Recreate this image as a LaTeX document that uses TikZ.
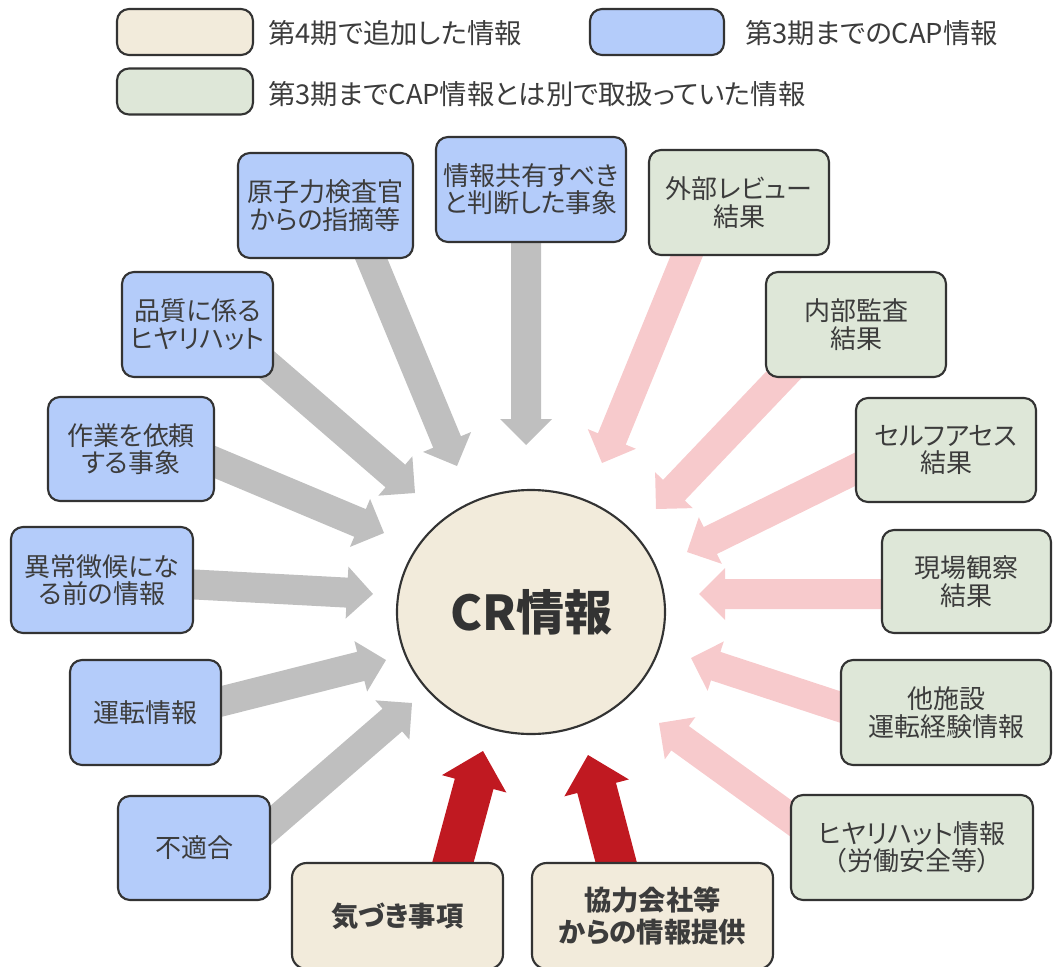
\documentclass[tikz,border=0pt]{standalone}
\usepackage{fontspec}
\setmainfont{Noto Sans CJK JP}[RawFeature=+palt]
\usetikzlibrary{calc,shapes.geometric}
\definecolor{cbeige}{RGB}{242,235,219}
\definecolor{cblue}{RGB}{180,204,250}
\definecolor{cgreen}{RGB}{222,231,216}
\definecolor{cgray}{RGB}{191,191,191}
\definecolor{cpink}{RGB}{247,202,204}
\definecolor{cred}{RGB}{192,25,33}
\definecolor{cline}{RGB}{51,51,51}
\definecolor{ctext}{RGB}{60,60,60}
\pgfdeclarelayer{arrowlayer}
\pgfsetlayers{arrowlayer,main}
% #1 colour, #2 tail, #3 tip, #4 half shaft, #5 half head, #6 head length
\newcommand\blockarr[6]{%
  \coordinate (hb) at ($(#3)!#6!(#2)$);
  \fill[#1] ($(#2)!#4!90:(#3)$) -- ($(hb)!#4!90:(#3)$) -- ($(hb)!#5!90:(#3)$)
    -- (#3) -- ($(hb)!#5!-90:(#3)$) -- ($(hb)!#4!-90:(#3)$) -- ($(#2)!#4!-90:(#3)$) -- cycle;}
\tikzset{
  sz/.style 2 args={minimum width=#1*0.75pt, minimum height=#2*0.75pt},
  box/.style={draw=cline, line width=1.6pt, rounded corners=9pt, align=center,
    text=ctext, inner sep=0pt, font=\fontsize{19.5pt}{20.5pt}\selectfont},
  bluebox/.style={box, fill=cblue},
  greenbox/.style={box, fill=cgreen},
  beigebox/.style={box, fill=cbeige, rounded corners=11pt, font=\fontsize{20.5pt}{24.5pt}\selectfont\bfseries},
  legtext/.style={anchor=west, text=ctext, inner sep=0pt, font=\fontsize{20.5pt}{21pt}\selectfont},
}
\begin{document}
\begin{tikzpicture}[x=0.75pt,y=-0.75pt]
\useasboundingbox (0,0) rectangle (1053,967);
% legend
\node[box, fill=cbeige, sz={136}{46}] (lg1) at (185,32) {};
\node[legtext] (lt1) at (268,33) {第4期で追加した情報};
\node[box, fill=cblue, sz={134}{46}] (lg2) at (657,32) {};
\node[legtext] (lt2) at (745,33) {第3期までのCAP情報};
\node[box, fill=cgreen, sz={136}{46}] (lg3) at (185,91.5) {};
\node[legtext] (lt3) at (268,94) {第3期までCAP情報とは別で取扱っていた情報};
% centre
\node[ellipse, draw=cline, line width=1.6pt, fill=cbeige, inner sep=0pt,
  minimum width=268*0.75pt, minimum height=244*0.75pt, text=cline,
  font=\fontsize{36pt}{40pt}\selectfont\bfseries] (cr) at (531,612) {CR情報};
% blue boxes
\node[bluebox, sz={175}{105}] (gen) at (325.5,205.5) {原子力検査官\\からの指摘等};
\node[bluebox, sz={190}{105}] (kyo) at (531,189.5) {情報共有すべき\\と判断した事象};
\node[bluebox, sz={151}{105}] (hin) at (197.5,324.5) {品質に係る\\ヒヤリハット};
\node[bluebox, sz={166}{104}] (sag) at (131,449) {作業を依頼\\する事象};
\node[bluebox, sz={182}{106}] (ijo) at (102,580) {異常徴候にな\\る前の情報};
\node[bluebox, sz={151}{105}] (unt) at (145.5,712.5) {運転情報};
\node[bluebox, sz={152}{104}] (fut) at (194,848) {不適合};
% green boxes
\node[greenbox, sz={180}{105}] (gai) at (739,202.5) {外部レビュー\\結果};
\node[greenbox, sz={180}{105}] (nai) at (856,324.5) {内部監査\\結果};
\node[greenbox, sz={180}{104}] (sel) at (946,450) {セルフアセス\\結果};
\node[greenbox, sz={169}{103}] (gba) at (966.5,581.5) {現場観察\\結果};
\node[greenbox, sz={210}{105}] (tas) at (946,712.5) {他施設\\運転経験情報};
\node[greenbox, sz={242}{105}] (hiy) at (912,847.5) {ヒヤリハット情報\\（労働安全等）};
% beige boxes
\node[beigebox, sz={211}{106}] (kiz) at (397.5,916) {気づき事項};
\node[beigebox, sz={241}{106}] (kyor) at (652.5,916) {協力会社等\\からの情報提供};
% arrow tips and tails
\coordinate (t1) at (457,466);
\coordinate (t2) at (526,445);
\coordinate (t3) at (415,493);
\coordinate (t4) at (384,533);
\coordinate (t5) at (373,594);
\coordinate (t6) at (386,660);
\coordinate (t7) at (412,703);
\coordinate (p1) at (602,463);
\coordinate (p2) at (656,509);
\coordinate (p3) at (687,552);
\coordinate (p4) at (699,594);
\coordinate (p5) at (691,658);
\coordinate (p6) at (659,723);
\coordinate (r1) at (483,751);
\coordinate (r2) at (588,755);
\coordinate (s1) at ($(gen.south)+(40,-14)$);
\coordinate (s2) at ($(kyo.south)+(-5,-12)$);
\coordinate (s3) at ($(hin.south east)+(-15,-20)$);
\coordinate (s4) at ($(sag.east)+(-17,6)$);
\coordinate (s5) at ($(ijo.east)+(-18,3.5)$);
\coordinate (s6) at ($(unt.east)+(-17,-7)$);
\coordinate (s7) at ($(fut.east)+(-15,-10)$);
\coordinate (q1) at ($(gai.south)+(-47,-13)$);
\coordinate (q2) at ($(nai.south)+(-61,-15)$);
\coordinate (q3) at ($(sel.west)+(17,11)$);
\coordinate (q4) at ($(gba.west)+(18,12.5)$);
\coordinate (q5) at ($(tas.west)+(17,0)$);
\coordinate (q6) at ($(hiy.west)+(17,-17.5)$);
\coordinate (u1) at ($(kiz.north)+(51.5,15)$);
\coordinate (u2) at ($(kyor.north)+(-32.5,15)$);
\begin{pgfonlayer}{arrowlayer}
\blockarr{cgray}{s1}{t1}{11.25pt}{19.5pt}{19.5pt}
\blockarr{cgray}{s2}{t2}{11.25pt}{19.5pt}{19.5pt}
\blockarr{cgray}{s3}{t3}{11.25pt}{19.5pt}{19.5pt}
\blockarr{cgray}{s4}{t4}{11.25pt}{19.5pt}{19.5pt}
\blockarr{cgray}{s5}{t5}{11.25pt}{19.5pt}{19.5pt}
\blockarr{cgray}{s6}{t6}{11.25pt}{19.5pt}{19.5pt}
\blockarr{cgray}{s7}{t7}{11.25pt}{19.5pt}{19.5pt}
\blockarr{cpink}{q1}{p1}{11.25pt}{19.5pt}{19.5pt}
\blockarr{cpink}{q2}{p2}{11.25pt}{19.5pt}{19.5pt}
\blockarr{cpink}{q3}{p3}{11.25pt}{19.5pt}{19.5pt}
\blockarr{cpink}{q4}{p4}{11.25pt}{19.5pt}{19.5pt}
\blockarr{cpink}{q5}{p5}{11.25pt}{19.5pt}{19.5pt}
\blockarr{cpink}{q6}{p6}{11.25pt}{19.5pt}{19.5pt}
\blockarr{cred}{u1}{r1}{15pt}{25pt}{25.5pt}
\blockarr{cred}{u2}{r2}{15pt}{25pt}{25.5pt}
\end{pgfonlayer}
\end{tikzpicture}
\end{document}
